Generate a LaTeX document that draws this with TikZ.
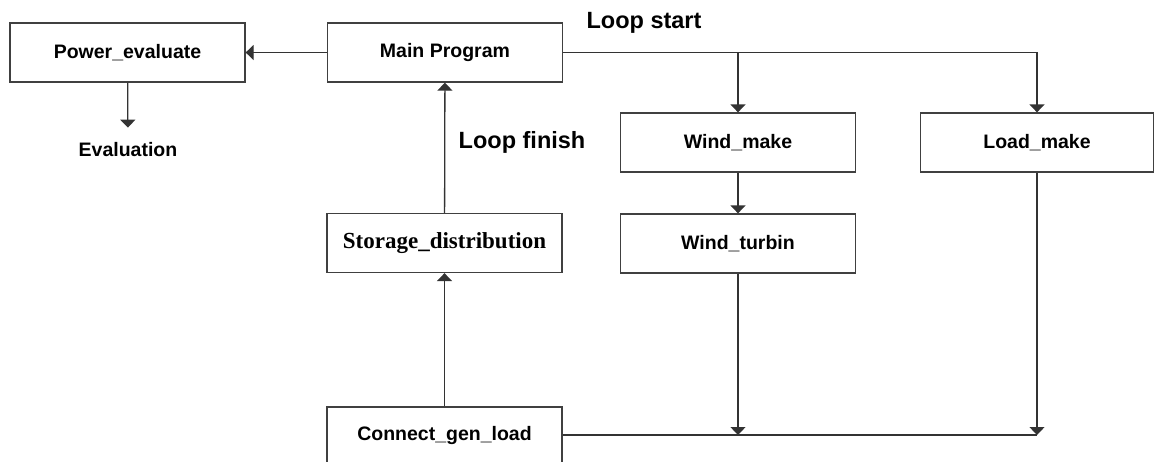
\documentclass[tikz,border=0pt]{standalone}
\usepackage{fontspec}
\setmainfont{Liberation Sans}
\newfontfamily\timesfont{Liberation Serif}
\usetikzlibrary{arrows.meta}
\begin{document}
\begin{tikzpicture}[x=1pt, y=-1pt,
    box/.style={draw=black!75, line width=1.3pt, minimum width=235pt, minimum height=59pt, inner sep=0pt, font=\fontsize{19.5}{22}\selectfont\bfseries},
    lbl/.style={inner sep=0pt, font=\fontsize{19.5}{22}\selectfont\bfseries},
    big/.style={inner sep=0pt, font=\fontsize{23.5}{26}\selectfont\bfseries},
    wire/.style={draw=black!80, line width=1.3pt},
    arr/.style={wire, -{Triangle[width=15pt,length=8pt]}}]
  \useasboundingbox (0,0) rectangle (1159,461);
  \node[box] (power) at (127.5,52.5) {Power\_evaluate};
  \node[lbl] (eval) at (128,150) {Evaluation};
  \node[box] (main) at (445,52.5) {Main Program};
  \node[big] (start) at (644,23) {Loop start};
  \node[big] (finish) at (522,142) {Loop finish};
  \node[box] (wmake) at (738,142.5) {Wind\_make};
  \node[box, minimum width=233pt] (load) at (1037,142.5) {Load\_make};
  \node[box] (wturb) at (738,243.5) {Wind\_turbin};
  \node[box, font=\fontsize{23}{26}\selectfont\timesfont\bfseries] (store) at (444.5,243) {Storage\_distribution};
  \node[box, minimum height=56pt] (cgl) at (444.5,435) {Connect\_gen\_load};
  \coordinate (split) at (main.east -| wmake.north);
  \coordinate (j1) at (wturb.south |- cgl.east);
  \coordinate (j2) at (load.south |- cgl.east);
  \draw[arr] (main) -- (power);
  \draw[arr, shorten >=15pt] (power) -- (eval);
  \draw[arr] (main.east) -| (load);
  \draw[arr] (split) -- (wmake);
  \draw[arr] (wmake) -- (wturb);
  \draw[arr] (store) -- (main);
  \draw[arr] (cgl) -- (store);
  \draw[wire] (cgl.east) -- (j2);
  \draw[arr] (wturb) -- (j1);
  \draw[arr] (load) -- (j2);
\end{tikzpicture}
\end{document}
